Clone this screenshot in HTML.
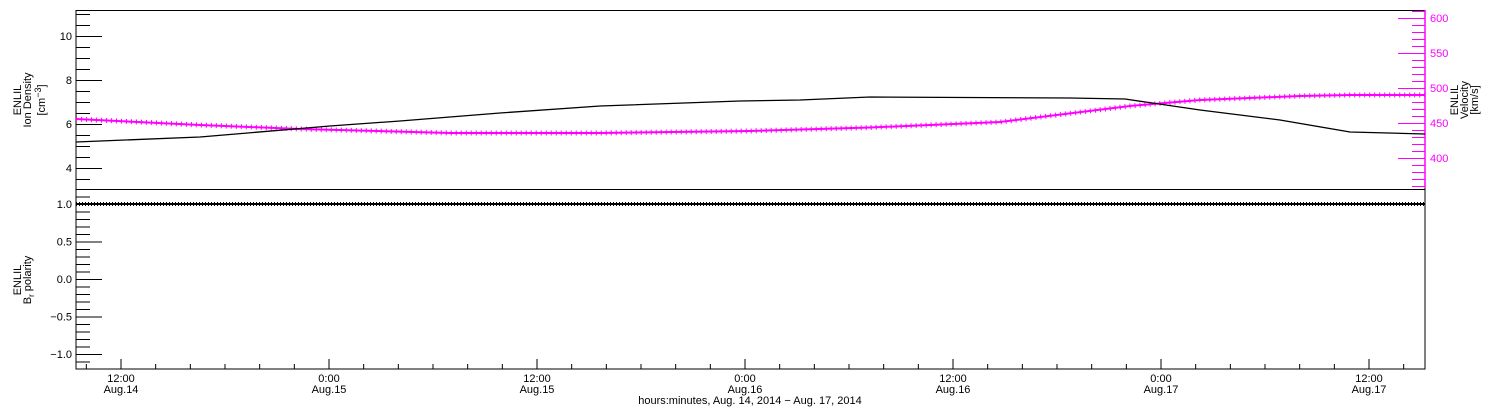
<!DOCTYPE html>
<html><head><meta charset="utf-8"><style>
html,body{margin:0;padding:0;background:#fff;}
svg{display:block;font-family:"Liberation Sans",sans-serif;}
</style></head><body>
<svg id="s" width="1500" height="410" xmlns="http://www.w3.org/2000/svg">
<rect width="1500" height="410" fill="#fff"/>
<g id="g"></g>
</svg>
<script>
const g=document.getElementById('g');let h='';
function L(x1,y1,x2,y2,c,w){h+=`<line x1="${x1}" y1="${y1}" x2="${x2}" y2="${y2}" stroke="${c||'#000'}" stroke-width="${w||1}"/>`;}
function T(x,y,t,a,c,extra){h+=`<text x="${x}" y="${y}" font-size="11" text-anchor="${a||'middle'}" fill="${c||'#000'}" ${extra||''}>${t}</text>`;}
const X0=76,X1=1425;
h+=`<rect x="${X0}" y="10.5" width="${X1-X0}" height="179" fill="none" stroke="#000"/>`;
h+=`<rect x="${X0}" y="189.5" width="${X1-X0}" height="179.5" fill="none" stroke="#000"/>`;
for(let v=3;v<=11.2;v+=0.5){let y=36+(10-v)*22;if(y<11||y>188)continue;let maj=Math.abs(v-Math.round(v/2)*2)<1e-6;L(X0,y+.5,X0+(maj?26:14),y+.5);if(maj)T(72,y+4,v,'end');}
L(X1,10,X1,188,'#f0f',1.5);
for(let v=360;v<=610;v+=10){let y=88-(v-500)*0.7;if(y<11||y>188)continue;let maj=v%50==0;L(X1,y+.5,X1-(maj?27:13),y+.5,'#f0f');if(maj)T(1430,y+4,v,'start','#f0f');}
for(let i=-12;i<=12;i++){let v=i/10;let y=279+(-v)*75;if(y<190||y>368)continue;let maj=i%5==0;L(X0,y+.5,X0+(maj?26:14),y+.5);if(maj){let s=(v<0?'\u2212':'')+Math.abs(v).toFixed(1);T(72,y+4,s,'end');}}
const labs=[['12:00','Aug.14'],['0:00','Aug.15'],['12:00','Aug.15'],['0:00','Aug.16'],['12:00','Aug.16'],['0:00','Aug.17'],['12:00','Aug.17']];
for(let k=-2;k<=80;k++){let x=121+k*34.667;if(x<X0||x>X1)continue;let maj=k%6==0;L(x,369,x,maj?359:364);if(maj){let i=k/6;if(labs[i]){T(x,382,labs[i][0]);T(x,393,labs[i][1]);}}}
T(750,404,'hours:minutes, Aug. 14, 2014 \u2212 Aug. 17, 2014');
h+=`<g transform="translate(21,100) rotate(-90)" font-size="11"><text x="0" y="0" text-anchor="middle">ENLIL</text><text x="0" y="10" text-anchor="middle">Ion Density</text><text x="0" y="24" text-anchor="middle">[cm<tspan dy="-4" font-size="9">\u22123</tspan><tspan dy="4">]</tspan></text></g>`;
h+=`<g transform="translate(1458,100) rotate(-90)" font-size="11"><text x="0" y="0" text-anchor="middle">ENLIL</text><text x="0" y="10" text-anchor="middle">Velocity</text><text x="0" y="20" text-anchor="middle">[km/s]</text></g>`;
h+=`<g transform="translate(21,280) rotate(-90)" font-size="11"><text x="0" y="0" text-anchor="middle">ENLIL</text><text x="0" y="10" text-anchor="middle">B<tspan dy="3" font-size="8">r</tspan><tspan dy="-3"> polarity</tspan></text></g>`;
const mv=[[76,119],[200,125],[300,129],[450,133],[600,133],[750,131],[870,127.5],[1000,122],[1130,106],[1200,100],[1300,96],[1350,95],[1425,95]];
const pm=mv.map(p=>p.join(',')).join(' ');
h+=`<polyline points="${pm}" fill="none" stroke="#f0f" stroke-width="2"/>`;
h+=`<polyline points="${pm}" fill="none" stroke="#f0f" stroke-width="5" stroke-dasharray="1 4"/>`;
const bd=[[76,142],[200,137],[330,126],[400,121],[500,113],[600,106],[740,101],[800,100],[870,97],[1070,98],[1125,99],[1200,110],[1280,120],[1350,132],[1425,134]];
h+=`<polyline points="${bd.map(p=>p.join(',')).join(' ')}" fill="none" stroke="#000" stroke-width="1.3"/>`;
L(X0,204,X1,204,'#000',2);
h+=`<line x1="${X0}" y1="204" x2="${X1}" y2="204" stroke="#000" stroke-width="4" stroke-dasharray="1 2"/>`;
g.innerHTML=h;
</script>
</body></html>
